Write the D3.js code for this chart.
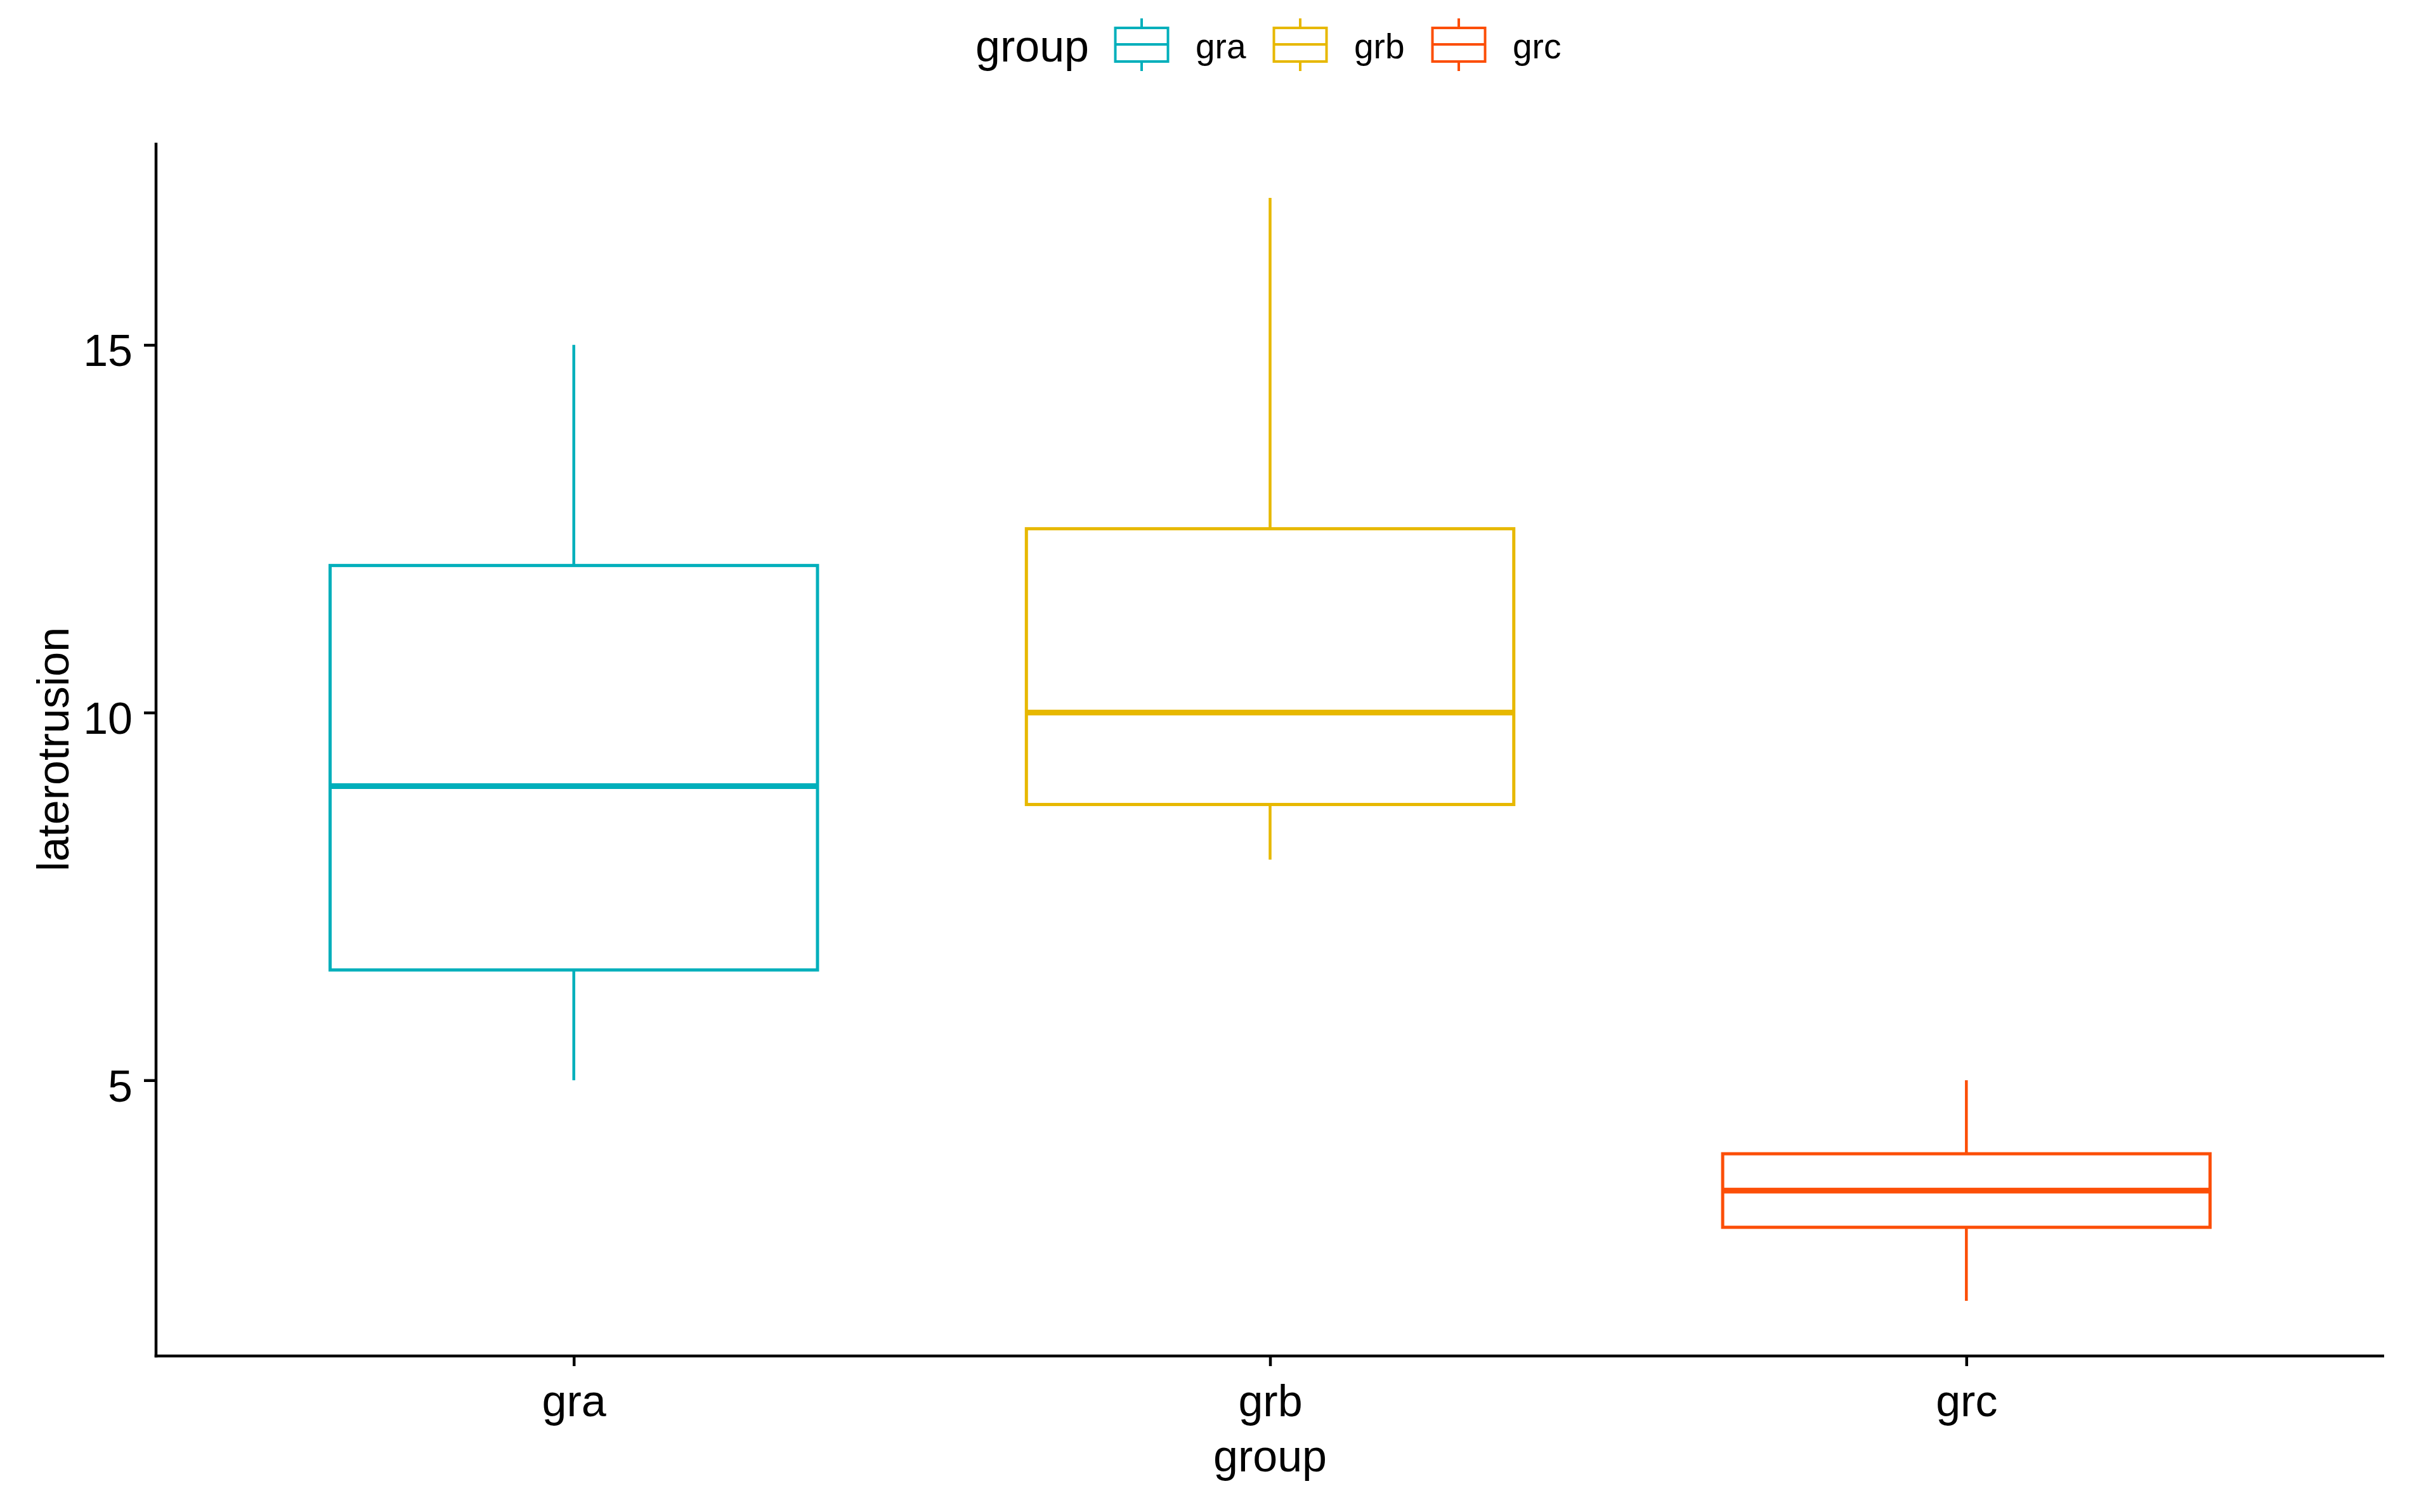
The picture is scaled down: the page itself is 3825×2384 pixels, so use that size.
<!DOCTYPE html>
<html>
<head>
<meta charset="utf-8">
<script src="https://cdn.jsdelivr.net/npm/d3@7"></script>
<style>
  html, body { margin: 0; padding: 0; background: #ffffff; }
  svg { display: block; }
  text { font-family: "Liberation Sans", Arial, sans-serif; fill: #000; }
</style>
</head>
<body>
<script>
// ---- data ----
const categories = ["gra", "grb", "grc"];
const colors = ["#00AFBB", "#E7B800", "#FC4E07"];
const whiskerLow  = [5, 8, 2];
const q1          = [6.5, 8.75, 3];
const medians     = [9, 10, 3.5];
const q3          = [12, 12.5, 4];
const whiskerHigh = [15, 17, 5];
const yTicks = [5, 10, 15];
const yLabel = "laterotrusion";
const xLabel = "group";
const legendTitle = "group";

// ---- layout ----
const W = 3825, H = 2384;
const plotLeft = 246, plotRight = 3759, plotTop = 225, plotBottom = 2138;

const svg = d3.select("body").append("svg").attr("width", W).attr("height", H);
svg.append("rect").attr("width", W).attr("height", H).attr("fill", "#fff");

const x = d3.scalePoint().domain(categories).range([plotLeft, plotRight]).padding(0.6);
const y = d3.scaleLinear().domain([1.25, 17.75]).range([plotBottom, plotTop]);
const color = d3.scaleOrdinal().domain(categories).range(colors);
const boxW = x.step() * 0.7;

const data = categories.map((c, i) => ({
  c, lo: whiskerLow[i], q1: q1[i], med: medians[i], q3: q3[i], hi: whiskerHigh[i]
}));

// ---- boxes ----
const g = svg.append("g");
const bx = g.selectAll("g.box").data(data).enter().append("g").attr("class", "box");
bx.append("line")
  .attr("x1", d => x(d.c)).attr("x2", d => x(d.c))
  .attr("y1", d => y(d.q3)).attr("y2", d => y(d.hi))
  .attr("stroke", d => color(d.c)).attr("stroke-width", 4.5);
bx.append("line")
  .attr("x1", d => x(d.c)).attr("x2", d => x(d.c))
  .attr("y1", d => y(d.q1)).attr("y2", d => y(d.lo))
  .attr("stroke", d => color(d.c)).attr("stroke-width", 4.5);
bx.append("rect")
  .attr("x", d => x(d.c) - boxW / 2).attr("width", boxW)
  .attr("y", d => y(d.q3)).attr("height", d => y(d.q1) - y(d.q3))
  .attr("fill", "#fff").attr("stroke", d => color(d.c)).attr("stroke-width", 5);
bx.append("line")
  .attr("x1", d => x(d.c) - boxW / 2).attr("x2", d => x(d.c) + boxW / 2)
  .attr("y1", d => y(d.med)).attr("y2", d => y(d.med))
  .attr("stroke", d => color(d.c)).attr("stroke-width", 9);

// ---- axes ----
const yAxis = svg.append("g").attr("transform", `translate(${plotLeft},0)`)
  .call(d3.axisLeft(y).tickValues(yTicks).tickSize(19).tickSizeOuter(0).tickPadding(18));
yAxis.select(".domain").remove();
yAxis.selectAll(".tick line").attr("stroke", "#000").attr("stroke-width", 4.5);
yAxis.selectAll(".tick text")
  .attr("dy", null).attr("y", 33)
  .style("font-size", "70px").style("font-family", "Liberation Sans, Arial, sans-serif")
  .attr("fill", "#000");

const xAxis = svg.append("g").attr("transform", `translate(0,${plotBottom})`)
  .call(d3.axisBottom(x).tickSize(16).tickSizeOuter(0));
xAxis.select(".domain").remove();
xAxis.selectAll(".tick line").attr("stroke", "#000").attr("stroke-width", 4.5);
xAxis.selectAll(".tick text")
  .attr("dy", null).attr("y", 95)
  .style("font-size", "70px").style("font-family", "Liberation Sans, Arial, sans-serif")
  .attr("fill", "#000");

// axis lines
svg.append("line").attr("x1", plotLeft).attr("x2", plotLeft).attr("y1", plotTop).attr("y2", plotBottom + 2.25)
  .attr("stroke", "#000").attr("stroke-width", 4.5);
svg.append("line").attr("x1", plotLeft - 2.25).attr("x2", plotRight).attr("y1", plotBottom).attr("y2", plotBottom)
  .attr("stroke", "#000").attr("stroke-width", 4.5);

// axis titles
svg.append("text").attr("x", (plotLeft + plotRight) / 2).attr("y", 2320)
  .attr("text-anchor", "middle").style("font-size", "70px").text(xLabel);
svg.append("text").attr("transform", `translate(108,${(plotTop + plotBottom) / 2}) rotate(-90)`)
  .attr("text-anchor", "middle").style("font-size", "70px").text(yLabel);

// ---- legend ----
const leg = svg.append("g");
leg.append("text").attr("x", 1538).attr("y", 97).style("font-size", "70px").text(legendTitle);
const keyX0 = 1800, keyStep = 250, kw = 83;
const items = leg.selectAll("g.item").data(categories).enter().append("g")
  .attr("transform", (d, i) => `translate(${keyX0 + i * keyStep},0)`);
items.append("line").attr("x1", 0).attr("x2", 0).attr("y1", 29).attr("y2", 112)
  .attr("stroke", d => color(d)).attr("stroke-width", 4);
items.append("rect").attr("x", -kw / 2).attr("width", kw).attr("y", 44).attr("height", 53)
  .attr("fill", "#fff").attr("stroke", d => color(d)).attr("stroke-width", 4);
items.append("line").attr("x1", -kw / 2).attr("x2", kw / 2).attr("y1", 70).attr("y2", 70)
  .attr("stroke", d => color(d)).attr("stroke-width", 4);
items.append("text").attr("x", 85).attr("y", 92).style("font-size", "55px").text(d => d);
</script>
</body>
</html>
